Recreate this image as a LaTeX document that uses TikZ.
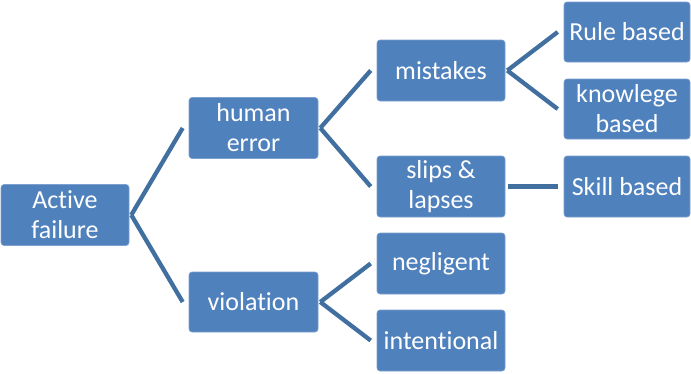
\documentclass[tikz,border=0pt]{standalone}
\usepackage{fontspec}
\setmainfont[Ligatures={NoCommon}]{Carlito}
\definecolor{boxblue}{RGB}{79,129,189}
\definecolor{boxedge}{RGB}{125,160,208}
\definecolor{linkblue}{RGB}{65,111,160}
\begin{document}
\begin{tikzpicture}[x=1pt,y=-1pt,
  box/.style={rectangle, rounded corners=3pt, fill=boxblue, draw=boxedge, line width=0.6pt,
    minimum width=128pt, minimum height=61pt, inner sep=0pt, align=center, text=white,
    font=\fontsize{26}{30}\selectfont},
  rbox/.style={box, minimum width=126pt, minimum height=60pt},
  link/.style={draw=linkblue, line width=4.3pt}]
\useasboundingbox (0,0) rectangle (691,373);
\node[box] (act) at (65,215) {Active\\failure};
\node[box, minimum width=129pt] (he) at (253.5,128) {human\\error};
\node[box, minimum width=129pt, minimum height=60pt] (vio) at (253.5,302) {violation};
\node[box] (mis) at (441,70.5) {mistakes};
\node[box] (sl) at (441,186.5) {slips \&\\lapses};
\node[box] (neg) at (441,263.5) {negligent};
\node[box] (int) at (441,340.5) {intentional};
\node[rbox] (rule) at (627,32) {Rule based};
\node[rbox] (know) at (627,109) {knowlege\\based};
\node[rbox, minimum height=61pt] (skill) at (627,186.5) {Skill based};
\draw[link] ([xshift=2pt]act.east) -- ([xshift=-6pt]he.west);
\draw[link] ([xshift=2pt]act.east) -- ([xshift=-6pt]vio.west);
\draw[link] ([xshift=2pt]he.east) -- ([xshift=-6pt]mis.west);
\draw[link] ([xshift=2pt]he.east) -- ([xshift=-6pt]sl.west);
\draw[link] ([xshift=2pt]vio.east) -- ([xshift=-6pt]neg.west);
\draw[link] ([xshift=2pt]vio.east) -- ([xshift=-6pt]int.west);
\draw[link] ([xshift=2pt]mis.east) -- ([xshift=-6pt]rule.west);
\draw[link] ([xshift=2pt]mis.east) -- ([xshift=-6pt]know.west);
\draw[link] ([xshift=3pt]sl.east) -- ([xshift=-6pt]skill.west);
\end{tikzpicture}
\end{document}
